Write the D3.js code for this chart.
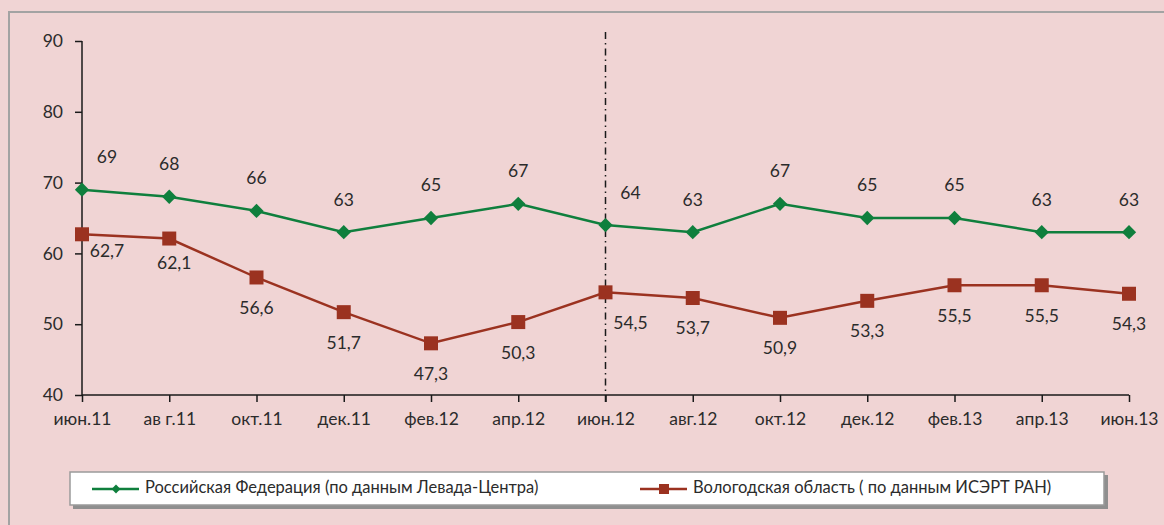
<!DOCTYPE html>
<html>
<head>
<meta charset="utf-8">
<script src="https://cdn.jsdelivr.net/npm/d3@7"></script>
<style>
  body { margin: 0; background: #f0d4d4; }
  text { font-family: Lato, "Open Sans", sans-serif; fill: #2b2b2b; }
</style>
</head>
<body>
<script>
(function() {

  // categories and series
  const months = ["июн.11", "ав г.11", "окт.11", "дек.11", "фев.12", "апр.12", "июн.12",
    "авг.12", "окт.12", "дек.12", "фев.13", "апр.13", "июн.13"];
  const russia = [69, 68, 66, 63, 65, 67, 64, 63, 67, 65, 65, 63, 63];
  const vologda = [62.7, 62.1, 56.6, 51.7, 47.3, 50.3, 54.5, 53.7, 50.9, 53.3, 55.5, 55.5, 54.3];
  const yTicks = [40, 50, 60, 70, 80, 90];
  const splitMonth = "июн.12";
  const seriesNames = ["Российская Федерация (по данным Левада-Центра)",
    "Вологодская область ( по данным ИСЭРТ РАН)"];

  const green = "#0f7f3d";
  const red = "#9b3220";
  const fontSize = "17.5px";
  const fmt = (v) => String(v).replace(".", ",");

  const svg = d3.select("body").append("svg")
    .attr("width", 1164)
    .attr("height", 525);

  // outer frame
  svg.append("rect")
    .attr("x", 9).attr("y", 12)
    .attr("width", 1170).attr("height", 530)
    .attr("fill", "none")
    .attr("stroke", "#a3a3a3")
    .attr("stroke-width", 2);

  const x = d3.scalePoint().domain(months).range([82, 1129]);
  const y = d3.scaleLinear().domain([40, 90]).range([395, 41]);

  // y axis
  const yAxis = svg.append("g")
    .attr("transform", "translate(82,0)")
    .call(d3.axisLeft(y).tickValues(yTicks).tickSize(7).tickPadding(12));
  yAxis.select(".domain").attr("stroke", "#1a1a1a").attr("stroke-width", 1.5).attr("d", "M0,41V395");
  yAxis.selectAll(".tick line").attr("stroke", "#1a1a1a").attr("stroke-width", 1.5);
  yAxis.selectAll("text").style("font-size", fontSize).attr("fill", "#2b2b2b");

  // x axis
  const xAxis = svg.append("g")
    .attr("transform", "translate(0,395)")
    .call(d3.axisBottom(x).tickSize(7).tickPadding(11));
  xAxis.select(".domain").attr("stroke", "#1a1a1a").attr("stroke-width", 1.5).attr("d", "M82,0H1129");
  xAxis.selectAll(".tick line").attr("stroke", "#1a1a1a").attr("stroke-width", 1.5);
  xAxis.selectAll("text").style("font-size", fontSize).attr("fill", "#2b2b2b");

  // dash-dot separator
  svg.append("line")
    .attr("x1", x(splitMonth)).attr("x2", x(splitMonth))
    .attr("y1", 32).attr("y2", 406)
    .attr("stroke", "#1a1a1a")
    .attr("stroke-width", 1.5)
    .style("stroke-dasharray", "7,4,1.5,4");

  const line = d3.line()
    .x((d, i) => x(months[i]))
    .y((d) => y(d));

  // Russia series
  svg.append("path").datum(russia)
    .attr("d", line).attr("fill", "none")
    .attr("stroke", green).attr("stroke-width", 2.5);

  svg.selectAll(".diamond").data(russia).enter()
    .append("path")
    .attr("d", d3.symbol().type(d3.symbolDiamond2).size(130))
    .attr("transform", (d, i) => "translate(" + x(months[i]) + "," + y(d) + ")")
    .attr("fill", green);

  svg.selectAll(".rlabel").data(russia).enter()
    .append("text")
    .attr("x", (d, i) => x(months[i]) + (i === 0 || months[i] === splitMonth ? 25 : 0))
    .attr("y", (d) => y(d) - 31)
    .attr("text-anchor", "middle")
    .attr("dominant-baseline", "middle")
    .style("font-size", fontSize)
    .text((d) => fmt(d));

  // Vologda series
  svg.append("path").datum(vologda)
    .attr("d", line).attr("fill", "none")
    .attr("stroke", red).attr("stroke-width", 2.5);

  svg.selectAll(".square").data(vologda).enter()
    .append("rect")
    .attr("x", (d, i) => x(months[i]) - 7)
    .attr("y", (d) => y(d) - 7)
    .attr("width", 14).attr("height", 14)
    .attr("fill", red);

  svg.selectAll(".vlabel").data(vologda).enter()
    .append("text")
    .attr("x", (d, i) => x(months[i]) + (i === 0 || months[i] === splitMonth ? 25 : (i === 1 ? 5 : 0)))
    .attr("y", (d, i) => y(d) + (i === 0 ? 18 : (i === 1 ? 26 : 32)))
    .attr("text-anchor", "middle")
    .attr("dominant-baseline", "middle")
    .style("font-size", fontSize)
    .text((d) => fmt(d));

  // legend
  svg.append("rect")
    .attr("x", 73).attr("y", 475)
    .attr("width", 1035).attr("height", 34)
    .attr("fill", "#8f8f8f");
  svg.append("rect")
    .attr("x", 70).attr("y", 472)
    .attr("width", 1034).attr("height", 33)
    .attr("fill", "white")
    .attr("stroke", "#9a9a9a")
    .attr("stroke-width", 1.5);

  const legendItems = [
    { name: seriesNames[0], color: green, x0: 92, shape: "diamond" },
    { name: seriesNames[1], color: red, x0: 640, shape: "square" }
  ];
  legendItems.forEach((item) => {
    svg.append("line")
      .attr("x1", item.x0).attr("x2", item.x0 + 47)
      .attr("y1", 489).attr("y2", 489)
      .attr("stroke", item.color).attr("stroke-width", 2.5);
    if (item.shape === "diamond") {
      svg.append("path")
        .attr("d", d3.symbol().type(d3.symbolDiamond2).size(50))
        .attr("transform", "translate(" + (item.x0 + 24) + ",489)")
        .attr("fill", item.color);
    } else {
      svg.append("rect")
        .attr("x", item.x0 + 19).attr("y", 484)
        .attr("width", 10).attr("height", 10)
        .attr("fill", item.color);
    }
    svg.append("text")
      .attr("x", item.x0 + 53).attr("y", 489)
      .attr("dominant-baseline", "middle")
      .style("font-size", "16.5px")
      .text(item.name);
  });
})();
</script>
</body>
</html>
